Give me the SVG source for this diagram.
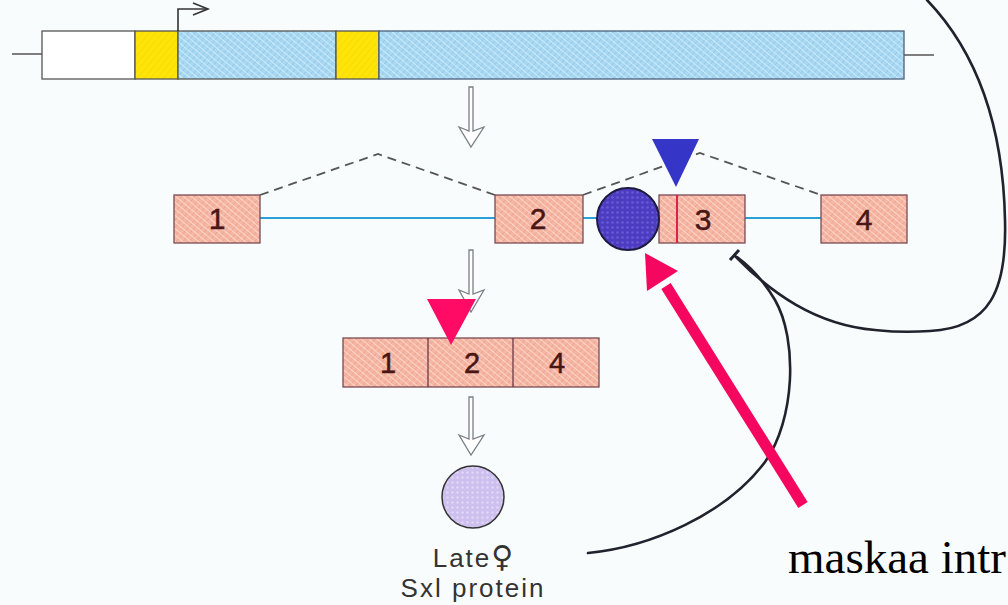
<svg xmlns="http://www.w3.org/2000/svg" width="1008" height="605" viewBox="0 0 1008 605">
<defs>
<pattern id="hatchBlue" width="5" height="5" patternUnits="userSpaceOnUse" patternTransform="rotate(40)">
<rect width="5" height="5" fill="#a9d9f2"/>
<line x1="0" y1="0" x2="0" y2="5" stroke="#86c0e6" stroke-width="1.2"/>
<line x1="0" y1="2.5" x2="5" y2="2.5" stroke="#d8effa" stroke-width="0.8"/>
</pattern>
<pattern id="hatchSalmon" width="5" height="5" patternUnits="userSpaceOnUse" patternTransform="rotate(40)">
<rect width="5" height="5" fill="#f6b6a4"/>
<line x1="0" y1="0" x2="0" y2="5" stroke="#eb9a86" stroke-width="1.2"/>
<line x1="0" y1="2.5" x2="5" y2="2.5" stroke="#fde0d6" stroke-width="0.8"/>
</pattern>
<pattern id="hatchYellow" width="5" height="5" patternUnits="userSpaceOnUse" patternTransform="rotate(40)">
<rect width="5" height="5" fill="#ffe40a"/>
<line x1="0" y1="0" x2="0" y2="5" stroke="#f2d400" stroke-width="1"/>
</pattern>
<pattern id="dotsBlue" width="5" height="5" patternUnits="userSpaceOnUse">
<rect width="5" height="5" fill="#4b3cc0"/>
<circle cx="2.5" cy="2.5" r="1.3" fill="#6a5ad8"/>
</pattern>
<pattern id="dotsLilac" width="5" height="5" patternUnits="userSpaceOnUse">
<rect width="5" height="5" fill="#cdbfee"/>
<circle cx="2.5" cy="2.5" r="1.2" fill="#e2d8f8"/>
</pattern>
</defs>
<style>
.exon{fill:url(#hatchSalmon);stroke:#7a4a55;stroke-width:1.3}
.num{font-family:"Liberation Sans",Arial,sans-serif;fill:#4a1515;text-anchor:middle;stroke:#4a1515;stroke-width:0.5}
.hollow{fill:#ffffff;stroke:#7a7f85;stroke-width:1.3;stroke-linejoin:miter}
.dash{fill:none;stroke:#555;stroke-width:1.8;stroke-dasharray:9 6}
.intron{stroke:#2a9fd8;stroke-width:2}
.curve{fill:none;stroke:#22222e;stroke-width:2.6;stroke-linecap:round}
.label{font-family:"Liberation Sans",Arial,sans-serif;fill:#333;text-anchor:middle;font-size:26px;letter-spacing:2px}
</style>
<rect width="1008" height="605" fill="#f9fcfc"/>

<g id="gene">
<line x1="12" y1="54" x2="42" y2="54" stroke="#555" stroke-width="1.5"/>
<line x1="904" y1="55" x2="934" y2="55" stroke="#555" stroke-width="1.5"/>
<rect x="42" y="31" width="93" height="48" fill="#ffffff" stroke="#555" stroke-width="1.3"/>
<rect x="135" y="31" width="43" height="48" fill="url(#hatchYellow)" stroke="#555" stroke-width="1.3"/>
<rect x="178" y="31" width="158" height="48" fill="url(#hatchBlue)" stroke="#555" stroke-width="1.3"/>
<rect x="336" y="31" width="43" height="48" fill="url(#hatchYellow)" stroke="#555" stroke-width="1.3"/>
<rect x="379" y="31" width="525" height="48" fill="url(#hatchBlue)" stroke="#4a6080" stroke-width="1.3"/>
<polyline points="178,31 178,9 207,9" fill="none" stroke="#333" stroke-width="1.6"/>
<polyline points="193,3 208,9 193,15" fill="none" stroke="#333" stroke-width="1.6"/>
</g>

<g id="arrows-hollow">
<polygon class="hollow" points="469,87 473,87 473,131 484,127 471,147 459,127 469,131"/>
<polygon class="hollow" points="469,250 473,250 473,294 484,290 471,312 459,290 469,294"/>
<polygon class="hollow" points="469,397 473,397 473,439 484,435 471,455 459,435 469,439"/>
</g>

<g id="pre-mrna">
<line class="intron" x1="260" y1="218" x2="495" y2="218"/>
<line class="intron" x1="583" y1="218" x2="600" y2="218"/>
<line class="intron" x1="745" y1="218" x2="821" y2="218"/>
<polyline class="dash" points="260,195 378,154 495,195"/>
<polyline class="dash" points="583,195 700,153 821,195"/>
<g id="exon1"><rect class="exon" x="174" y="195" width="86" height="48"/><text class="num" x="217" y="229" font-size="30">1</text></g>
<g id="exon2"><rect class="exon" x="495" y="195" width="88" height="48"/><text class="num" x="538" y="229" font-size="30">2</text></g>
<g id="exon3"><rect class="exon" x="659" y="195" width="86" height="48"/><line x1="677" y1="195" x2="677" y2="243" stroke="#e0204a" stroke-width="2"/><text class="num" x="703" y="230" font-size="30">3</text></g>
<g id="exon4"><rect class="exon" x="821" y="195" width="86" height="48"/><text class="num" x="864" y="230" font-size="30">4</text></g>
<g id="sxl-bound"><circle cx="628" cy="219" r="31" fill="url(#dotsBlue)" stroke="#1e1a40" stroke-width="2"/></g>
<polygon id="blue-marker" points="652,139 699,139 676,187" fill="#3535c8"/>
</g>

<g id="mrna">
<rect class="exon" x="343" y="338" width="256" height="49"/>
<line x1="428" y1="338" x2="428" y2="387" stroke="#6a3a45" stroke-width="1.3"/>
<line x1="513" y1="338" x2="513" y2="387" stroke="#6a3a45" stroke-width="1.3"/>
<text class="num" x="388" y="373" font-size="29">1</text>
<text class="num" x="472" y="373" font-size="29">2</text>
<text class="num" x="557" y="373" font-size="29">4</text>
<polygon id="pink-marker" points="427,299 476,299 451,345" fill="#ff0a64"/>
</g>

<g id="protein">
<circle cx="473" cy="497" r="31" fill="url(#dotsLilac)" stroke="#333" stroke-width="1.5"/>
<text class="label" x="473" y="567">Late<tspan font-family="'DejaVu Sans',sans-serif" font-size="30px" letter-spacing="0">♀</tspan></text>
<text class="label" x="473" y="597">Sxl protein</text>
</g>

<g id="connectors">
<path class="curve" d="M927,0 C975,50 1003,120 1005,220 C1007,290 990,328 930,331 C900,333 885,331 875,330 C815,325 770,292 735,256"/>
<line x1="730" y1="260" x2="739" y2="250" stroke="#22222e" stroke-width="3"/>
<path class="curve" d="M588,553 C650,547 725,515 765,462 C795,420 798,340 775,300 C765,283 752,268 737,257"/>
<line x1="803" y1="505" x2="666" y2="286" stroke="#f5075f" stroke-width="11"/>
<polygon points="645,253 678,271 647,291" fill="#f5075f"/>
</g>

<text x="788" y="573" font-family="'Liberation Serif','Times New Roman',serif" font-size="47" fill="#000">maskaa intr</text>
</svg>
